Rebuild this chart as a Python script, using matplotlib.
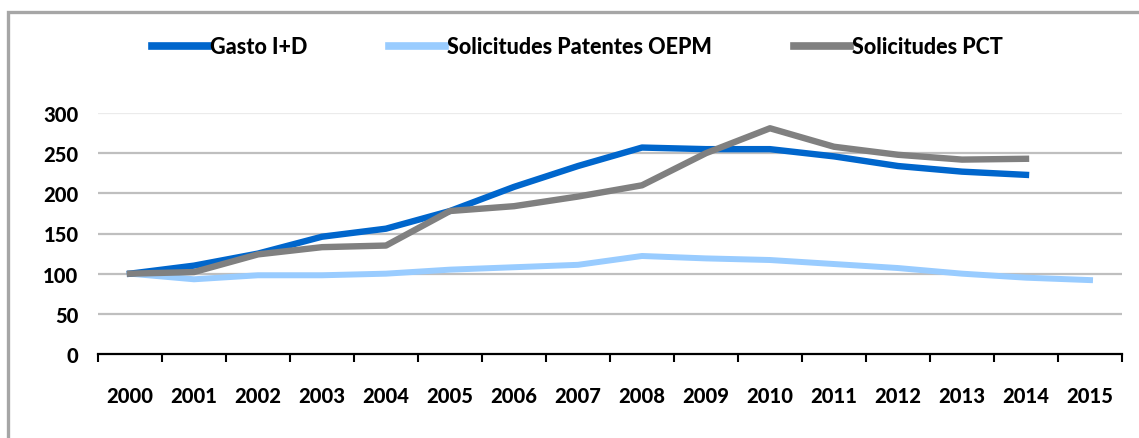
import numpy as np
import matplotlib.pyplot as plt
from matplotlib.patches import Rectangle

years = [str(y) for y in range(2000, 2016)]

# indices 2000 = 100
gasto_id = [100, 110, 125, 146, 156, 178, 208, 234, 257, 255, 255, 246, 234, 227, 223, None]
patentes_oepm = [100, 93, 98, 98, 100, 105, 108, 111, 122, 119, 117, 112, 107, 100, 95, 92]
solicitudes_pct = [100, 102, 124, 133, 135, 178, 184, 196, 210, 250, 281, 258, 248, 242, 243, None]

y_ticks = [0, 50, 100, 150, 200, 250, 300]

font = ['Lato', 'DejaVu Sans']
fw = 'black'
fs = 14.5

fig = plt.figure(figsize=(11.39, 4.39), dpi=100)
ax = fig.add_axes([98 / 1139, 1 - 355 / 439, (1122 - 98) / 1139, (355 - 114) / 439])

x = np.arange(len(years))


def to_arr(vals):
    return np.array([np.nan if v is None else v for v in vals], dtype=float)


ax.plot(x, to_arr(gasto_id), color='#0066CC', lw=4.6, label='Gasto I+D', zorder=4)
ax.plot(x, to_arr(patentes_oepm), color='#99CCFF', lw=4.3, label='Solicitudes Patentes OEPM', zorder=3)
ax.plot(x, to_arr(solicitudes_pct), color='#808080', lw=4.6, label='Solicitudes PCT', zorder=5)

ax.set_xlim(-0.5, len(years) - 0.5)
ax.set_ylim(0, 300)

# gridlines
for v in y_ticks[1:]:
    ax.axhline(v, color='#EBEBEB' if v == 300 else '#BFBFBF', lw=1.6, zorder=1)

for s in ['top', 'right', 'left']:
    ax.spines[s].set_visible(False)
ax.spines['bottom'].set_color('black')
ax.spines['bottom'].set_linewidth(1.6)

ax.set_yticks(y_ticks)
ax.set_yticklabels([str(v) for v in y_ticks], family=font, fontweight=fw, fontsize=fs)
ax.tick_params(axis='y', length=0, pad=14)

ax.set_xticks(np.arange(-0.5, len(years), 1.0), minor=False)
ax.set_xticklabels([])
ax.set_xticks(x, minor=True)
ax.set_xticklabels(years, minor=True, family=font, fontweight=fw, fontsize=fs)
ax.tick_params(axis='x', which='major', length=6, width=1.5, direction='out')
ax.tick_params(axis='x', which='minor', length=0, pad=23)

leg = fig.legend(loc='center', bbox_to_anchor=(0.507, 1 - 48 / 439), ncol=3, frameon=False,
                 handlelength=2.6, handletextpad=0.1, columnspacing=3.8,
                 prop={'family': font, 'weight': fw, 'size': 15.5})
for h in leg.get_lines():
    h.set_linewidth(5.5)

# outer frame (partly cropped in the original)
top = 1 - 13 / 439
fig.add_artist(Rectangle((8 / 1139, -0.2), 1.2, top + 0.2,
                         transform=fig.transFigure, fill=False, edgecolor='#A6A6A6', lw=2.4))

fig.savefig('out.png', dpi=100)
